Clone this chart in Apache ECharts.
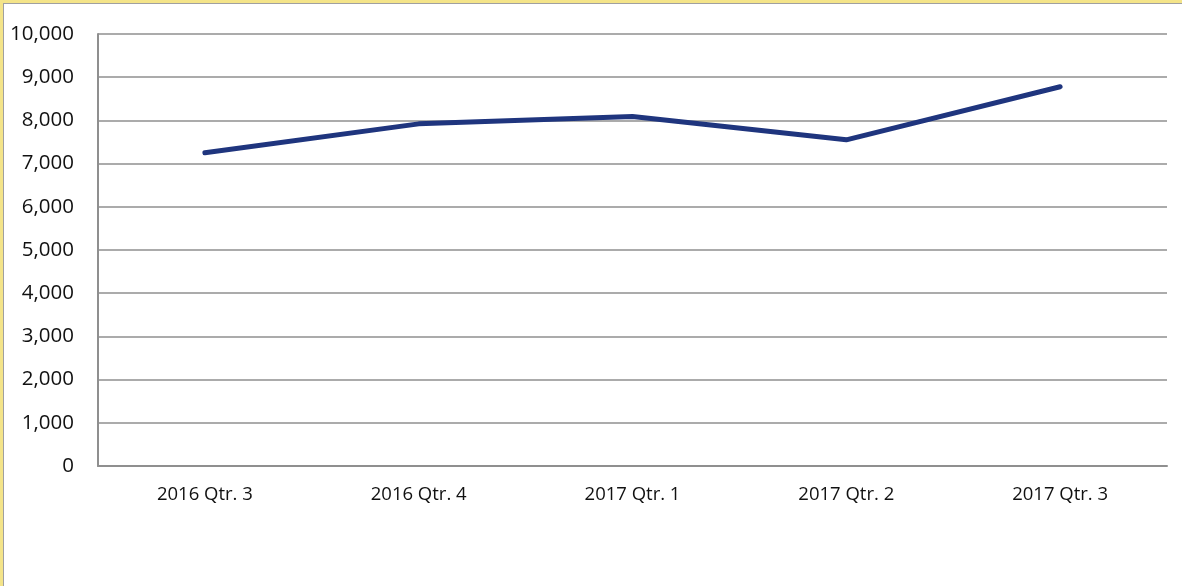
<!DOCTYPE html>
<html>
<head>
<meta charset="utf-8">
<script src="https://cdn.jsdelivr.net/npm/echarts@6/dist/echarts.min.js"></script>
<style>
  html, body { margin: 0; padding: 0; background: #fff; }
  #wrap { position: relative; width: 1182px; height: 586px; overflow: hidden; }
  #main { position: absolute; left: 0; top: 0; width: 1182px; height: 586px; }
  .edge-y { position: absolute; left: 0; top: 0; width: 3px; height: 586px; background: #f4e489; }
  .edge-x { position: absolute; left: 0; top: 0; width: 1182px; height: 3px; background: #f4e489; }
  .line-y { position: absolute; left: 3px; top: 3px; width: 1px; height: 583px; background: #a0a0a0; }
  .line-x { position: absolute; left: 3px; top: 3px; width: 1179px; height: 1px; background: #a0a0a0; }
</style>
</head>
<body>
<div id="wrap">
  <div id="main"></div>
  <div class="edge-y"></div>
  <div class="edge-x"></div>
  <div class="line-y"></div>
  <div class="line-x"></div>
</div>
<script>
// quarters on the x axis
const quarters = ['2016 Qtr. 3', '2016 Qtr. 4', '2017 Qtr. 1', '2017 Qtr. 2', '2017 Qtr. 3'];
// values
const values = [7250, 7920, 8090, 7550, 8780];
// y axis range
const yMin = 0;
const yMax = 10000;
const yStep = 1000;

const chart = echarts.init(document.getElementById('main'));

const option = {
    animation: false,
    backgroundColor: 'transparent',
    grid: { left: 98, right: 15, top: 34, bottom: 120 },
    xAxis: {
        type: 'category',
        data: quarters,
        boundaryGap: true,
        axisLine: { lineStyle: { color: '#8f8f8f', width: 2 } },
        axisTick: { show: false },
        axisLabel: { color: '#111', fontSize: 18.5, fontFamily: 'Open Sans', margin: 19 }
    },
    yAxis: {
        type: 'value',
        min: yMin,
        max: yMax,
        interval: yStep,
        axisLine: { show: true, lineStyle: { color: '#8f8f8f', width: 2 } },
        axisTick: { show: false },
        splitLine: { lineStyle: { color: '#8f8f8f', width: 1.5 } },
        axisLabel: {
            color: '#111',
            fontSize: 20.5,
            fontFamily: 'Open Sans',
            margin: 24,
            formatter: v => v.toLocaleString('en-US')
        }
    },
    series: [{
        type: 'line',
        data: values,
        symbol: 'none',
        lineStyle: { color: '#1f357e', width: 5, cap: 'round', join: 'round' }
    }]
};

chart.setOption(option);
</script>
</body>
</html>
